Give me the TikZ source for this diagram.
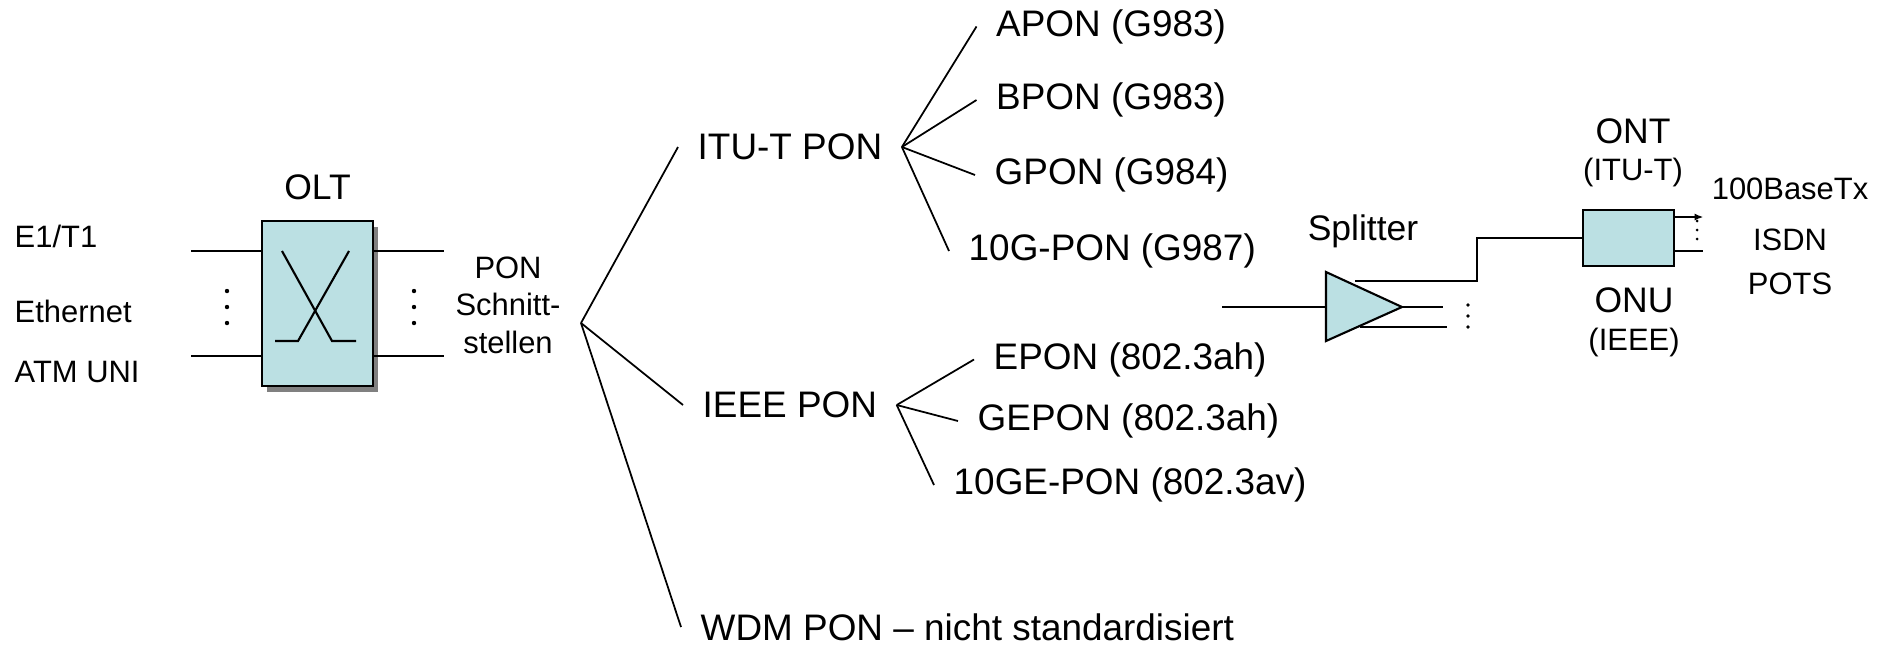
\documentclass[tikz,border=0pt]{standalone}
\usepackage{fontspec}
\setmainfont{Liberation Sans}
\usetikzlibrary{arrows.meta,calc,positioning,shadows}
\definecolor{boxcyan}{RGB}{187,224,227}
\definecolor{shadowgrey}{RGB}{128,128,128}

\begin{document}
\begin{tikzpicture}[>=latex,
    bigtxt/.style={font=\fontsize{10.5}{12.6}\selectfont},
    midtxt/.style={font=\fontsize{10.1}{12}\selectfont},
    smalltxt/.style={font=\fontsize{8.8}{10.7}\selectfont, inner sep=0pt},
    treelabel/.style={bigtxt, anchor=west, inner xsep=0.19cm, inner ysep=0pt},
    branch/.style={line width=0.5pt},
    wire/.style={line width=0.6pt},
    unit/.style={draw, line width=0.8pt, fill=boxcyan, inner sep=0pt}]
    \useasboundingbox (0,0) rectangle (18.92,-6.46);

    % Schnittstellen links
    \node[smalltxt, anchor=west] (e1) at (0.14,-2.36) {E1/T1};
    \node[smalltxt, anchor=west] (eth) at (0.14,-3.11) {Ethernet};
    \node[smalltxt, anchor=west] (atm) at (0.14,-3.72) {ATM UNI};

    % OLT mit Schatten
    \node[unit, minimum width=1.11cm, minimum height=1.65cm,
          drop shadow={shadow xshift=0.05cm, shadow yshift=-0.06cm, fill=shadowgrey, opacity=1}] (olt) at (3.175,-3.035) {};
    \node[midtxt] (oltlabel) at (3.175,-1.87) {OLT};
    \draw[wire] (2.82,-2.51) -- (3.32,-3.41) -- (3.56,-3.41);
    \draw[wire] (3.49,-2.51) -- (2.98,-3.41) -- (2.75,-3.41);

    % Leitungen am OLT
    \coordinate (inA) at (1.91,-2.51);
    \coordinate (inB) at (1.91,-3.56);
    \coordinate (outA) at (4.44,-2.51);
    \coordinate (outB) at (4.44,-3.56);
    \draw[wire] (inA) -- (inA -| olt.west);
    \draw[wire] (inB) -- (inB -| olt.west);
    \draw[wire] (olt.east |- outA) -- (outA);
    \draw[wire] (olt.east |- outB) -- (outB);
    \foreach \x in {2.27,4.14}
        \foreach \y in {-2.91,-3.07,-3.23}
            \fill (\x,\y) circle (0.022);

    \node[smalltxt, align=center] (pon) at (5.08,-3.05) {PON\\Schnitt-\\stellen};

    % Baum der PON-Varianten
    \coordinate (root) at (5.81,-3.23);
    \node[treelabel] (itu) at (6.78,-1.47) {ITU-T PON};
    \node[treelabel] (ieee) at (6.83,-4.05) {IEEE PON};
    \node[treelabel] (wdm) at (6.81,-6.27) {WDM PON – nicht standardisiert};
    \foreach \n in {itu,ieee,wdm}
        \draw[branch] (root) -- (\n.west);

    \node[treelabel] (apon) at (9.765,-0.265) {APON (G983)};
    \node[treelabel] (bpon) at (9.765,-1.00) {BPON (G983)};
    \node[treelabel] (gpon) at (9.75,-1.75) {GPON (G984)};
    \node[treelabel] (xgpon) at (9.49,-2.51) {10G-PON (G987)};
    \foreach \n in {apon,bpon,gpon,xgpon}
        \draw[branch] (itu.east) -- (\n.west);

    \node[treelabel] (epon) at (9.74,-3.595) {EPON (802.3ah)};
    \node[treelabel] (gepon) at (9.58,-4.21) {GEPON (802.3ah)};
    \node[treelabel] (xgepon) at (9.34,-4.85) {10GE-PON (802.3av)};
    \foreach \n in {epon,gepon,xgepon}
        \draw[branch] (ieee.east) -- (\n.west);

    % Splitter
    \node[midtxt] (spllabel) at (13.63,-2.31) {Splitter};
    \coordinate (feed) at (12.22,-3.07);
    \coordinate (splin) at (13.26,-3.07);
    \coordinate (spltip) at (14.02,-3.07);
    \draw[wire, fill=boxcyan] (13.26,-2.72) -- (spltip) -- (13.26,-3.41) -- cycle;
    \draw[wire] (feed) -- (splin);
    \draw[wire] (spltip) -- ++(0.41,0);
    \draw[wire] (13.60,-3.27) -- (14.47,-3.27);
    \foreach \y in {-3.05,-3.16,-3.27}
        \fill (14.68,\y) circle (0.018);

    % ONT / ONU
    \node[unit, minimum width=0.91cm, minimum height=0.56cm] (ont) at (16.285,-2.38) {};
    \node[midtxt] (ontlabel) at (16.33,-1.31) {ONT};
    \node[smalltxt] (itut) at (16.33,-1.72) {(ITU-T)};
    \node[midtxt] (onulabel) at (16.34,-3.00) {ONU};
    \node[smalltxt] (ieeet) at (16.34,-3.42) {(IEEE)};
    \draw[wire] (13.55,-2.81) -- ++(1.22,0) |- (ont.west);
    \draw[wire, -{Latex[length=2.5pt,width=2pt]}] ([yshift=0.21cm]ont.east) -- ++(0.28,0);
    \draw[wire] ([yshift=-0.13cm]ont.east) -- ++(0.28,0);
    \foreach \y in {-2.21,-2.30,-2.39}
        \fill (16.97,\y) circle (0.015);

    % Dienste
    \node[smalltxt] (base) at (17.90,-1.89) {100BaseTx};
    \node[smalltxt] (isdn) at (17.90,-2.40) {ISDN};
    \node[smalltxt] (pots) at (17.90,-2.84) {POTS};
\end{tikzpicture}
\end{document}
